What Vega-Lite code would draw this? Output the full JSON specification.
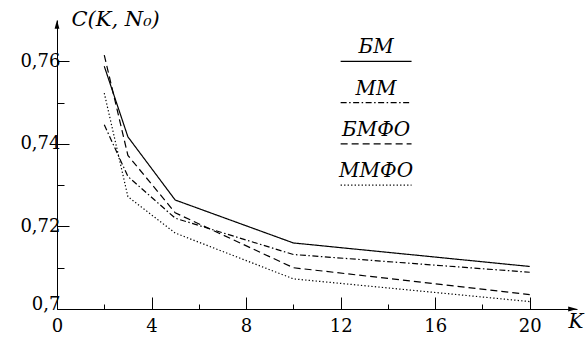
{
  "$schema": "https://vega.github.io/schema/vega-lite/v6.json",
  "width": 520,
  "height": 289,
  "autosize": {"type": "none"},
  "padding": {"left": 57, "top": 20, "right": 10, "bottom": 30},
  "background": "white",
  "config": {"view": {"stroke": null}},
  "datasets": {
    "curves": [
      {"series": "БМ", "K": 2, "C": 0.7588},
      {"series": "БМ", "K": 3, "C": 0.7417},
      {"series": "БМ", "K": 5, "C": 0.7264},
      {"series": "БМ", "K": 10, "C": 0.716},
      {"series": "БМ", "K": 20, "C": 0.7103},
      {"series": "ММ", "K": 2, "C": 0.7446},
      {"series": "ММ", "K": 3, "C": 0.7321},
      {"series": "ММ", "K": 5, "C": 0.722},
      {"series": "ММ", "K": 10, "C": 0.7132},
      {"series": "ММ", "K": 20, "C": 0.7089},
      {"series": "БМФО", "K": 2, "C": 0.7615},
      {"series": "БМФО", "K": 3, "C": 0.7372},
      {"series": "БМФО", "K": 5, "C": 0.7233},
      {"series": "БМФО", "K": 10, "C": 0.71},
      {"series": "БМФО", "K": 20, "C": 0.7035},
      {"series": "ММФО", "K": 2, "C": 0.7523},
      {"series": "ММФО", "K": 3, "C": 0.7272},
      {"series": "ММФО", "K": 5, "C": 0.7184},
      {"series": "ММФО", "K": 10, "C": 0.7073},
      {"series": "ММФО", "K": 20, "C": 0.7018}
    ],
    "legend": [
      {"series": "БМ", "x1": 12, "x2": 15, "xm": 13.5, "y": 0.76},
      {"series": "ММ", "x1": 12, "x2": 15, "xm": 13.5, "y": 0.75},
      {"series": "БМФО", "x1": 12, "x2": 15, "xm": 13.5, "y": 0.74},
      {"series": "ММФО", "x1": 12, "x2": 15, "xm": 13.5, "y": 0.73}
    ],
    "arrows": [
      {"dir": "up", "K": 0, "C": 0.77},
      {"dir": "right", "K": 22, "C": 0.7}
    ]
  },
  "layer": [
    {
      "data": {"name": "curves"},
      "mark": {"type": "line", "strokeWidth": 1.2, "color": "black", "clip": false},
      "encoding": {
        "x": {
          "field": "K", "type": "quantitative",
          "scale": {"domain": [0, 22], "nice": false, "zero": false},
          "axis": {
            "values": [0, 2, 4, 6, 8, 10, 12, 14, 16, 18, 20],
            "labelExpr": "datum.value % 4 === 0 ? format(datum.value, 'd') : ''",
            "tickSize": {"condition": {"test": "datum.value % 4 === 0", "value": -12}, "value": -5},
            "tickColor": "black",
            "tickWidth": 1,
            "domainColor": "black",
            "domainWidth": 1,
            "grid": false,
            "labelFont": "DejaVu Serif",
            "labelFontSize": 18,
            "labelColor": "black",
            "labelPadding": 20,
            "labelFlush": false,
            "title": "K",
            "titleFont": "DejaVu Serif",
            "titleFontStyle": "italic",
            "titleFontWeight": "normal",
            "titleFontSize": 20,
            "titleColor": "black",
            "titleAngle": 0,
            "titleAlign": "left",
            "titleBaseline": "alphabetic",
            "titleX": 511,
            "titleY": 18
          }
        },
        "y": {
          "field": "C", "type": "quantitative",
          "scale": {"domain": [0.7, 0.77], "nice": false, "zero": false},
          "axis": {
            "values": [0.7, 0.71, 0.72, 0.73, 0.74, 0.75, 0.76],
            "labelExpr": "datum.value < 0.705 ? '0,7' : (round(datum.value * 100) % 2 === 0 ? replace(format(datum.value, '.2f'), '.', ',') : '')",
            "tickSize": {"condition": {"test": "round(datum.value * 100) % 2 === 0", "value": -12}, "value": -7},
            "tickColor": "black",
            "tickWidth": 1,
            "domainColor": "black",
            "domainWidth": 1,
            "grid": false,
            "labelFont": "DejaVu Serif",
            "labelFontSize": 18,
            "labelColor": "black",
            "labelPadding": 9,
            "labelFlush": false,
            "labelBaseline": {"condition": {"test": "datum.value < 0.705", "value": "alphabetic"}, "value": "middle"},
            "title": "C(K, N₀)",
            "titleFont": "DejaVu Serif",
            "titleFontStyle": "italic",
            "titleFontWeight": "normal",
            "titleFontSize": 21,
            "titleColor": "black",
            "titleAngle": 0,
            "titleAlign": "left",
            "titleBaseline": "alphabetic",
            "titleX": 14,
            "titleY": 5
          }
        },
        "strokeDash": {
          "field": "series", "type": "nominal",
          "scale": {"domain": ["БМ", "ММ", "БМФО", "ММФО"], "range": [[1, 0], [6, 2.5, 1.5, 2.5], [7, 4], [1.3, 2.2]]},
          "legend": null
        },
        "detail": {"field": "series"}
      }
    },
    {
      "data": {"name": "legend"},
      "mark": {"type": "rule", "strokeWidth": 1.2, "color": "black"},
      "encoding": {
        "x": {"field": "x1", "type": "quantitative"},
        "x2": {"field": "x2"},
        "y": {"field": "y", "type": "quantitative"},
        "strokeDash": {"field": "series", "type": "nominal", "legend": null}
      }
    },
    {
      "data": {"name": "legend"},
      "mark": {"type": "text", "font": "DejaVu Serif", "fontStyle": "italic", "fontSize": 20, "color": "black", "baseline": "alphabetic", "align": "center", "dy": -8},
      "encoding": {
        "x": {"field": "xm", "type": "quantitative"},
        "y": {"field": "y", "type": "quantitative"},
        "text": {"field": "series"}
      }
    },
    {
      "data": {"name": "arrows"},
      "mark": {"type": "point", "filled": true, "color": "black", "opacity": 1, "size": 64, "clip": false},
      "encoding": {
        "x": {"field": "K", "type": "quantitative"},
        "y": {"field": "C", "type": "quantitative"},
        "shape": {
          "field": "dir", "type": "nominal",
          "scale": {"domain": ["up", "right"], "range": ["M0,0L-0.6,2.2L0.6,2.2Z", "M0,0L-2.2,-0.6L-2.2,0.6Z"]},
          "legend": null
        }
      }
    }
  ]
}
